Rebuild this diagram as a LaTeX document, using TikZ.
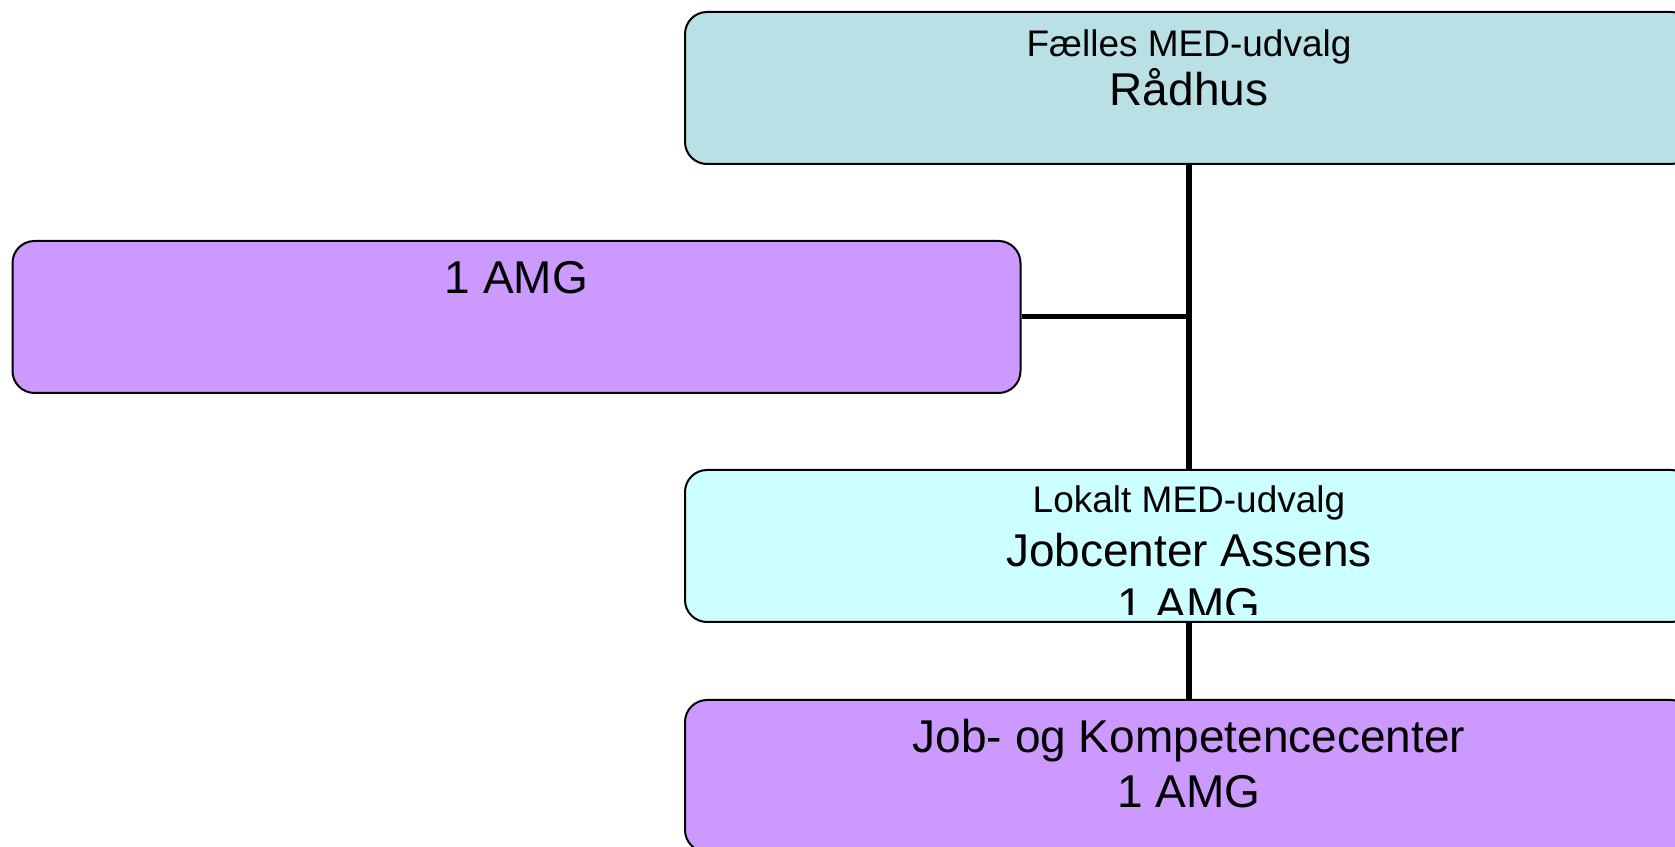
\documentclass[tikz,border=0pt]{standalone}
\usepackage{fontspec}
\setmainfont{Liberation Sans}
\usetikzlibrary{positioning,calc}
\definecolor{raadhusblue}{RGB}{185,224,229}
\definecolor{amgpurple}{RGB}{204,153,255}
\definecolor{lokaltcyan}{RGB}{204,255,255}
\tikzset{
  medbox/.style={draw=black,line width=1pt,rounded corners=11pt,minimum width=504pt,minimum height=76pt,inner sep=0pt},
  smalltxt/.style={font=\fontsize{18.5}{22}\selectfont,inner sep=0pt,anchor=base},
  bigtxt/.style={font=\fontsize{23}{27}\selectfont,inner sep=0pt,anchor=base},
  orgline/.style={line width=3pt}
}
\begin{document}
\begin{tikzpicture}[x=1pt,y=1pt]
\clip (0,0) rectangle (837.5,423);
\node[medbox,fill=raadhusblue] (raadhus) at (594.5,379) {};
\node[medbox,fill=amgpurple] (amg) at (258.25,264.5) {};
\node[medbox,fill=lokaltcyan] (jobcenter) at (594.5,150) {};
\node[medbox,fill=amgpurple] (jkc) at (594.5,35) {};
\draw[orgline] (raadhus.south) -- (jobcenter.north);
\draw[orgline] (jobcenter.south) -- (jkc.north);
\draw[orgline,line width=2.5pt] (amg.east) -- (amg.east -| raadhus.south);
\node[smalltxt] (raadhusA) at ([yshift=-23pt]raadhus.north) {Fælles MED-udvalg};
\node[bigtxt] (raadhusB) at ([yshift=-24.5pt]raadhusA.base) {Rådhus};
\node[bigtxt] (amgA) at ([yshift=-27pt]amg.north) {1 AMG};
\node[smalltxt] (jobcenterA) at ([yshift=-22pt]jobcenter.north) {Lokalt MED-udvalg};
\node[bigtxt] (jobcenterB) at ([yshift=-27pt]jobcenterA.base) {Jobcenter Assens};
\begin{scope}
\clip ([yshift=4pt]jobcenter.south west) rectangle (jobcenter.north east);
\node[bigtxt] (jobcenterC) at ([yshift=-27pt]jobcenterB.base) {1 AMG};
\end{scope}
\node[bigtxt] (jkcA) at ([yshift=-26.5pt]jkc.north) {Job- og Kompetencecenter};
\node[bigtxt] (jkcB) at ([yshift=-27.5pt]jkcA.base) {1 AMG};
\end{tikzpicture}
\end{document}
